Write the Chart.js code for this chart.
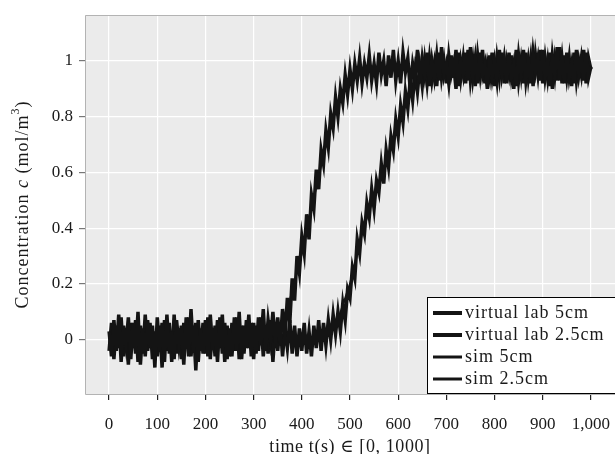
<!DOCTYPE html>
<html>
<head>
<meta charset="utf-8">
<script src="https://cdn.jsdelivr.net/npm/chart.js@4/dist/chart.umd.min.js"></script>
<style>
  html, body { margin: 0; padding: 0; background: #fff; }
  canvas { display: block; }
</style>
</head>
<body>
<canvas id="chart" width="615" height="454"></canvas>
<script>
// measured concentration, one sample every 5 s from t = 0 to t = 1000
const SAMPLE_STEP = 5;

const vlab5 = [
  0.03, -0.06, 0.07, -0.04, 0.09, -0.08, 0.05, -0.02, 0.08, -0.07,
  0.06, -0.05, 0.10, -0.09, 0.04, -0.06, 0.07, -0.03, 0.05, -0.10,
  0.08, -0.04, 0.06, -0.08, 0.09, -0.05, 0.03, -0.07, 0.07, -0.02,
  0.05, -0.09, 0.08, -0.06, 0.11, -0.04, 0.06, -0.08, 0.04, -0.05,
  0.07, -0.06, 0.09, -0.03, 0.05, -0.08, 0.08, -0.05, 0.06, -0.07,
  0.04, -0.06, 0.08, -0.04, 0.10, -0.07, 0.05, -0.03, 0.09, -0.06,
  0.06, -0.05, 0.08, -0.02, 0.11, -0.04, 0.07, 0.00, 0.10, -0.01,
  0.08, -0.02, 0.11, 0.01, 0.15, 0.06, 0.22, 0.14, 0.30, 0.24,
  0.37, 0.31, 0.45, 0.36, 0.52, 0.47, 0.61, 0.54, 0.68, 0.63,
  0.75, 0.69, 0.81, 0.76, 0.87, 0.80, 0.90, 0.85, 0.95, 0.88,
  0.97, 0.90, 0.99, 0.93, 1.01, 0.92, 0.99, 0.94, 1.02, 0.93,
  0.99, 0.92, 1.03, 0.95, 1.00, 0.91, 1.02, 0.94, 1.04, 0.93,
  1.00, 0.92, 1.03, 0.96, 1.01, 0.90, 0.99, 0.94, 1.04, 0.92,
  1.01, 0.95, 1.03, 0.91, 1.00, 0.94, 1.02, 0.93, 1.05, 0.95,
  0.99, 0.92, 1.02, 0.94, 1.04, 0.91, 1.00, 0.95, 1.03, 0.93,
  1.05, 0.94, 1.01, 0.92, 1.03, 0.95, 0.99, 0.90, 1.02, 0.94,
  1.00, 0.93, 1.04, 0.95, 1.01, 0.92, 1.03, 0.94, 0.99, 0.91,
  1.02, 0.95, 1.04, 0.93, 1.00, 0.92, 1.03, 0.96, 1.01, 0.93,
  1.04, 0.94, 1.00, 0.91, 1.02, 0.95, 1.05, 0.93, 1.01, 0.92,
  1.03, 0.94, 0.99, 0.92, 1.04, 0.95, 1.01, 0.93, 1.03, 0.94,
  0.98
];

const vlab25 = [
  -0.04, 0.06, -0.07, 0.05, -0.03, 0.08, -0.06, 0.04, -0.09, 0.06,
  -0.03, 0.07, -0.08, 0.05, -0.05, 0.09, -0.04, 0.06, -0.07, 0.03,
  -0.06, 0.05, -0.10, 0.07, -0.04, 0.06, -0.08, 0.09, -0.05, 0.04,
  -0.07, 0.06, -0.03, 0.08, -0.06, 0.05, -0.11, 0.07, -0.04, 0.06,
  -0.05, 0.08, -0.07, 0.04, -0.06, 0.07, -0.03, 0.09, -0.08, 0.05,
  -0.06, 0.06, -0.04, 0.08, -0.07, 0.05, -0.05, 0.07, -0.03, 0.06,
  -0.07, 0.05, -0.04, 0.08, -0.06, 0.04, -0.05, 0.07, -0.08, 0.05,
  -0.04, 0.06, -0.06, 0.04, -0.03, 0.07, -0.05, 0.05, -0.06, 0.04,
  -0.04, 0.06, -0.05, 0.03, -0.06, 0.05, -0.03, 0.07, -0.04, 0.06,
  -0.02, 0.07, 0.00, 0.09, 0.02, 0.10, 0.03, 0.13, 0.07, 0.18,
  0.15, 0.26, 0.22, 0.36, 0.31, 0.42, 0.38, 0.49, 0.44, 0.54,
  0.47, 0.57, 0.53, 0.63, 0.56, 0.68, 0.62, 0.73, 0.68, 0.79,
  0.73, 0.84, 0.78, 0.89, 0.83, 0.93, 0.86, 0.96, 0.89, 0.98,
  0.91, 1.00, 0.92, 1.01, 0.93, 0.99, 0.91, 1.03, 0.94, 1.00,
  0.92, 1.02, 0.95, 0.99, 0.90, 1.03, 0.94, 1.01, 0.92, 1.04,
  0.93, 1.00, 0.91, 1.02, 0.95, 1.04, 0.92, 0.99, 0.94, 1.03,
  0.91, 1.01, 0.94, 1.03, 0.92, 1.00, 0.95, 1.02, 0.90, 1.04,
  0.93, 1.00, 0.92, 1.03, 0.94, 1.01, 0.91, 1.02, 0.95, 1.04,
  0.92, 1.01, 0.94, 1.03, 0.90, 1.00, 0.93, 1.05, 0.92, 1.02,
  0.94, 1.01, 0.91, 1.03, 0.93, 1.00, 0.95, 1.04, 0.92, 1.01,
  0.97
];

// simulated curves
const simTimes = [
  0, 25, 50, 75, 100, 125, 150, 175, 200, 225,
  250, 275, 300, 325, 350, 375, 400, 425, 450, 475,
  500, 525, 550, 575, 600, 625, 650, 675, 700, 725,
  750, 775, 800, 825, 850, 875, 900, 925, 950, 975, 1000
];
const sim5 = [
  0, 0, 0, 0, 0, 0, 0, 0, 0, 0,
  0, 0, 0, 0, 0.02, 0.14, 0.31, 0.51, 0.70, 0.85,
  0.93, 0.96, 0.97, 0.97, 0.97, 0.97, 0.97, 0.97, 0.97, 0.97,
  0.97, 0.97, 0.97, 0.97, 0.97, 0.97, 0.97, 0.97, 0.97, 0.97, 0.97
];
const sim25 = [
  0, 0, 0, 0, 0, 0, 0, 0, 0, 0,
  0, 0, 0, 0, 0, 0, 0, 0, 0.02, 0.07,
  0.20, 0.38, 0.52, 0.64, 0.77, 0.89, 0.95, 0.97, 0.97, 0.97,
  0.97, 0.97, 0.97, 0.97, 0.97, 0.97, 0.97, 0.97, 0.97, 0.97, 0.97
];

const seriesLabels = ["virtual lab 5cm", "virtual lab 2.5cm", "sim 5cm", "sim 2.5cm"];
const xTicks = [0, 100, 200, 300, 400, 500, 600, 700, 800, 900, 1000];
const yTicks = [0, 0.2, 0.4, 0.6, 0.8, 1];

const INK = "#141414";
const FONT = "'Liberation Serif', 'DejaVu Serif', serif";

const sampled = (vals) => vals.map((v, i) => ({ x: i * SAMPLE_STEP, y: v }));
const paired = (ts, vals) => vals.map((v, i) => ({ x: ts[i], y: v }));

const legendWidths = [4, 4, 3, 3];

const panel = {
  id: "panel",
  beforeDraw(chart) {
    const { ctx, chartArea: a } = chart;
    ctx.save();
    ctx.fillStyle = "#ebebeb";
    ctx.fillRect(a.left, a.top, a.right - a.left + 2, a.bottom - a.top);
    ctx.restore();
  },
  afterDatasetsDraw(chart) {
    const { ctx, chartArea: a } = chart;
    // frame on top, left and bottom; the panel runs off the right edge
    ctx.save();
    ctx.strokeStyle = "#b3b3b3";
    ctx.lineWidth = 1;
    ctx.beginPath();
    ctx.moveTo(a.right + 2, a.top + 0.5);
    ctx.lineTo(a.left + 0.5, a.top + 0.5);
    ctx.lineTo(a.left + 0.5, a.bottom + 0.5);
    ctx.lineTo(a.right + 2, a.bottom + 0.5);
    ctx.stroke();
    ctx.restore();
  },
  afterDraw(chart) {
    const { ctx, chartArea: a } = chart;
    ctx.save();

    // x title
    ctx.fillStyle = "#1a1a1a";
    ctx.font = "18px " + FONT;
    ctx.letterSpacing = "0.6px";
    ctx.textAlign = "center";
    ctx.textBaseline = "middle";
    ctx.fillText("time t(s) \u2208 [0, 1000]", (a.left + a.right) / 2, 447);

    // y title, with italic c and superscript 3
    const parts = [
      { t: "Concentration ", f: "18px " + FONT, dy: 0 },
      { t: "c", f: "italic 18px " + FONT, dy: 0 },
      { t: " (mol/m", f: "18px " + FONT, dy: 0 },
      { t: "3", f: "12px " + FONT, dy: -7 },
      { t: ")", f: "18px " + FONT, dy: 0 }
    ];
    ctx.letterSpacing = "1px";
    let total = 0;
    parts.forEach(p => { ctx.font = p.f; p.w = ctx.measureText(p.t).width; total += p.w; });
    ctx.translate(23, (a.top + a.bottom) / 2);
    ctx.rotate(-Math.PI / 2);
    ctx.textAlign = "left";
    ctx.textBaseline = "middle";
    let x = -total / 2;
    parts.forEach(p => { ctx.font = p.f; ctx.fillText(p.t, x, p.dy); x += p.w; });
    ctx.setTransform(1, 0, 0, 1, 0, 0);

    // legend box inside the panel, bottom right, running past the edge
    const bx = 427, by = 297, bw = 220, bh = 96;
    ctx.fillStyle = "#fff";
    ctx.fillRect(bx, by, bw, bh);
    ctx.strokeStyle = "#000";
    ctx.lineWidth = 1;
    ctx.strokeRect(bx + 0.5, by + 0.5, bw, bh);
    ctx.font = "18px " + FONT;
    ctx.letterSpacing = "1px";
    ctx.textAlign = "left";
    ctx.textBaseline = "middle";
    chart.data.datasets.forEach((ds, i) => {
      const y = by + 16 + i * 22;
      ctx.strokeStyle = INK;
      ctx.lineWidth = legendWidths[i];
      ctx.beginPath();
      ctx.moveTo(433, y);
      ctx.lineTo(462, y);
      ctx.stroke();
      ctx.fillStyle = "#1a1a1a";
      ctx.fillText(ds.label, 465, y);
    });
    ctx.letterSpacing = "0px";
    ctx.restore();
  }
};

new Chart(document.getElementById("chart"), {
  type: "line",
  data: {
    datasets: [
      { label: seriesLabels[0], data: sampled(vlab5), borderColor: INK, borderWidth: 3.5 },
      { label: seriesLabels[1], data: sampled(vlab25), borderColor: INK, borderWidth: 3.5 },
      { label: seriesLabels[2], data: paired(simTimes, sim5), borderColor: INK, borderWidth: 2 },
      { label: seriesLabels[3], data: paired(simTimes, sim25), borderColor: INK, borderWidth: 2 }
    ]
  },
  options: {
    responsive: false,
    animation: false,
    events: [],
    layout: { padding: { top: 15, right: 0, left: 0, bottom: 0 } },
    elements: {
      point: { radius: 0 },
      line: { tension: 0, borderJoinStyle: "miter" }
    },
    plugins: { legend: { display: false }, tooltip: { enabled: false } },
    scales: {
      x: {
        type: "linear",
        min: -50,
        max: 1050,
        border: { display: false },
        grid: { color: "#ffffff", lineWidth: 1.2, tickColor: "#222", tickLength: 6 },
        ticks: {
          color: "#1a1a1a",
          font: { family: FONT, size: 17 },
          padding: 14,
          maxRotation: 0,
          callback: v => v.toLocaleString("en-US")
        },
        afterBuildTicks: s => { s.ticks = xTicks.map(v => ({ value: v })); },
        afterFit: s => { s.height = 60; s.paddingLeft = 0; s.paddingRight = 0; }
      },
      y: {
        min: -0.195,
        max: 1.165,
        border: { display: false },
        grid: { color: "#ffffff", lineWidth: 1.2, tickColor: "#777", tickLength: 6 },
        ticks: {
          color: "#1a1a1a",
          font: { family: FONT, size: 17 },
          padding: 6,
          callback: v => String(v)
        },
        afterBuildTicks: s => { s.ticks = yTicks.map(v => ({ value: v })); },
        afterFit: s => { s.width = 85; s.paddingTop = 0; s.paddingBottom = 0; }
      }
    }
  },
  plugins: [panel]
});
</script>
</body>
</html>
